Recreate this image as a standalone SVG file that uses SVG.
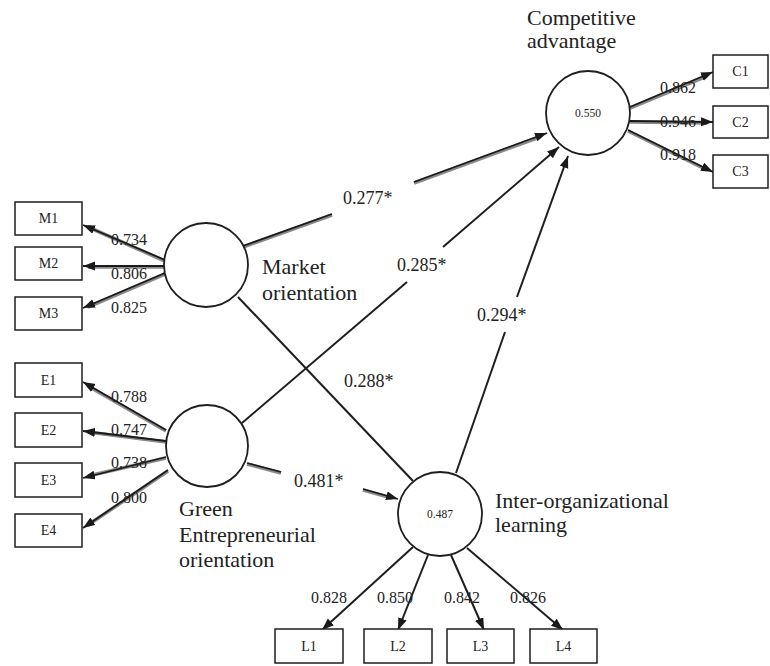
<svg xmlns="http://www.w3.org/2000/svg" width="770" height="666" viewBox="0 0 770 666">
<style>
  .bg{fill:#ffffff}
  .lv{fill:#ffffff;stroke:#1e1e1e;stroke-width:1.8}
  .box{fill:#ffffff;stroke:#1e1e1e;stroke-width:1.5}
  .ln{stroke:#1e1e1e;stroke-width:2;fill:none}
  .sh{stroke:#8a8a8a;stroke-width:3.6;fill:none}
  .dk{stroke:#1a1a1a;stroke-width:1.8;fill:none}
  .t{font-family:"Liberation Serif","Times New Roman",serif;fill:#222222}
  .name{font-size:22px}
  .coef{font-size:18px}
  .ld{font-size:16px}
  .bl{font-size:14px;text-anchor:middle}
  .r2{font-size:11.5px;text-anchor:middle}
</style>
<defs>
  <marker id="ah" markerUnits="userSpaceOnUse" markerWidth="13" markerHeight="10" refX="12" refY="4.5" orient="auto">
    <path d="M0,0 L12,4.5 L0,9 z" fill="#1a1a1a"/>
  </marker>
</defs>
<rect class="bg" x="0" y="0" width="770" height="666"/>

<g id="connectors">
  <!-- double-line loadings (shadow) -->
  <g class="sh">
    <line x1="165" y1="261" x2="88" y2="227"/>
    <line x1="165" y1="267" x2="88" y2="267"/>
    <line x1="165" y1="274" x2="88" y2="307"/>
    <line x1="166" y1="431" x2="88" y2="386"/>
    <line x1="166" y1="442" x2="88" y2="432"/>
    <line x1="166" y1="458" x2="88" y2="476"/>
    <line x1="168" y1="471" x2="88" y2="525"/>
    <line x1="630" y1="108" x2="707" y2="76"/>
    <line x1="630" y1="122" x2="707" y2="123"/>
    <line x1="628" y1="131" x2="707" y2="170"/>
    <line x1="243" y1="247" x2="332" y2="215"/>
    <line x1="414" y1="183" x2="540" y2="137"/>
    <line x1="247" y1="464" x2="281" y2="473"/>
    <line x1="363" y1="490" x2="392" y2="498"/>
  </g>
  <g class="dk">
    <line x1="165" y1="260" x2="83" y2="225" marker-end="url(#ah)"/>
    <line x1="165" y1="266" x2="83" y2="266" marker-end="url(#ah)"/>
    <line x1="165" y1="273" x2="83" y2="308" marker-end="url(#ah)"/>
    <line x1="166" y1="430" x2="83" y2="382" marker-end="url(#ah)"/>
    <line x1="166" y1="441" x2="83" y2="431" marker-end="url(#ah)"/>
    <line x1="166" y1="457" x2="83" y2="478" marker-end="url(#ah)"/>
    <line x1="168" y1="470" x2="83" y2="528" marker-end="url(#ah)"/>
    <line x1="630" y1="107" x2="713" y2="72" marker-end="url(#ah)"/>
    <line x1="630" y1="121" x2="713" y2="122" marker-end="url(#ah)"/>
    <line x1="628" y1="130" x2="713" y2="172" marker-end="url(#ah)"/>
    <line x1="243" y1="246" x2="332" y2="214"/>
    <line x1="414" y1="182" x2="547" y2="133" marker-end="url(#ah)"/>
    <line x1="247" y1="463" x2="281" y2="472"/>
    <line x1="363" y1="489" x2="398" y2="499" marker-end="url(#ah)"/>
  </g>
  <!-- single lines -->
  <g class="ln">
    <line x1="242" y1="423" x2="407" y2="282"/>
    <line x1="443" y1="247" x2="559" y2="147" marker-end="url(#ah)"/>
    <line x1="456" y1="473" x2="505" y2="332"/>
    <line x1="517" y1="297" x2="568" y2="156" marker-end="url(#ah)"/>
    <line x1="238" y1="297" x2="413" y2="481"/>
    <line x1="413" y1="547" x2="322" y2="630" marker-end="url(#ah)"/>
    <line x1="428" y1="555" x2="398" y2="630" marker-end="url(#ah)"/>
    <line x1="451" y1="555" x2="484" y2="630" marker-end="url(#ah)"/>
    <line x1="467" y1="548" x2="563" y2="630" marker-end="url(#ah)"/>
  </g>
  <!-- coefficient labels -->
  <g class="t coef">
    <text x="343" y="204">0.277*</text>
    <text x="397" y="271">0.285*</text>
    <text x="477" y="321">0.294*</text>
    <text x="344" y="387">0.288*</text>
    <text x="294" y="487">0.481*</text>
  </g>
  <g class="t ld">
    <text x="111" y="245">0.734</text>
    <text x="111" y="279">0.806</text>
    <text x="111" y="313">0.825</text>
    <text x="111" y="402">0.788</text>
    <text x="111" y="435">0.747</text>
    <text x="111" y="468">0.738</text>
    <text x="111" y="503">0.800</text>
    <text x="660" y="93">0.862</text>
    <text x="660" y="127">0.946</text>
    <text x="660" y="160">0.918</text>
    <text x="311" y="603">0.828</text>
    <text x="377" y="603">0.850</text>
    <text x="444" y="603">0.842</text>
    <text x="510" y="603">0.826</text>
  </g>
</g>

<g id="market-orientation">
  <circle class="lv" cx="206" cy="265" r="42"/>
  <text class="t name" x="262" y="274">Market</text>
  <text class="t name" x="262" y="300">orientation</text>
</g>
<g id="green-entrepreneurial-orientation">
  <circle class="lv" cx="207" cy="446" r="41"/>
  <text class="t name" x="179" y="516">Green</text>
  <text class="t name" x="179" y="542">Entrepreneurial</text>
  <text class="t name" x="179" y="567">orientation</text>
</g>
<g id="competitive-advantage">
  <circle class="lv" cx="588" cy="113" r="42"/>
  <text class="t r2" x="588" y="117">0.550</text>
  <text class="t name" x="527" y="25">Competitive</text>
  <text class="t name" x="527" y="48">advantage</text>
</g>
<g id="inter-organizational-learning">
  <circle class="lv" cx="440" cy="514" r="42"/>
  <text class="t r2" x="440" y="518">0.487</text>
  <text class="t name" x="495" y="508">Inter-organizational</text>
  <text class="t name" x="495" y="532">learning</text>
</g>

<g id="M1"><rect class="box" x="15" y="202" width="67" height="33"/><text class="t bl" x="48.5" y="223">M1</text></g>
<g id="M2"><rect class="box" x="15" y="247" width="67" height="33"/><text class="t bl" x="48.5" y="268">M2</text></g>
<g id="M3"><rect class="box" x="15" y="297" width="67" height="33"/><text class="t bl" x="48.5" y="318">M3</text></g>
<g id="E1"><rect class="box" x="15" y="363" width="67" height="34"/><text class="t bl" x="48.5" y="385">E1</text></g>
<g id="E2"><rect class="box" x="15" y="413" width="67" height="34"/><text class="t bl" x="48.5" y="435">E2</text></g>
<g id="E3"><rect class="box" x="15" y="463" width="67" height="34"/><text class="t bl" x="48.5" y="485">E3</text></g>
<g id="E4"><rect class="box" x="15" y="514" width="67" height="33"/><text class="t bl" x="48.5" y="535">E4</text></g>
<g id="C1"><rect class="box" x="713" y="55" width="55" height="33"/><text class="t bl" x="740.5" y="76">C1</text></g>
<g id="C2"><rect class="box" x="713" y="106" width="55" height="32"/><text class="t bl" x="740.5" y="127">C2</text></g>
<g id="C3"><rect class="box" x="713" y="155" width="55" height="33"/><text class="t bl" x="740.5" y="176">C3</text></g>
<g id="L1"><rect class="box" x="275" y="629" width="68" height="34"/><text class="t bl" x="309" y="651">L1</text></g>
<g id="L2"><rect class="box" x="364" y="629" width="68" height="34"/><text class="t bl" x="398" y="651">L2</text></g>
<g id="L3"><rect class="box" x="447" y="629" width="67" height="34"/><text class="t bl" x="480.5" y="651">L3</text></g>
<g id="L4"><rect class="box" x="530" y="629" width="67" height="34"/><text class="t bl" x="563.5" y="651">L4</text></g>
</svg>
